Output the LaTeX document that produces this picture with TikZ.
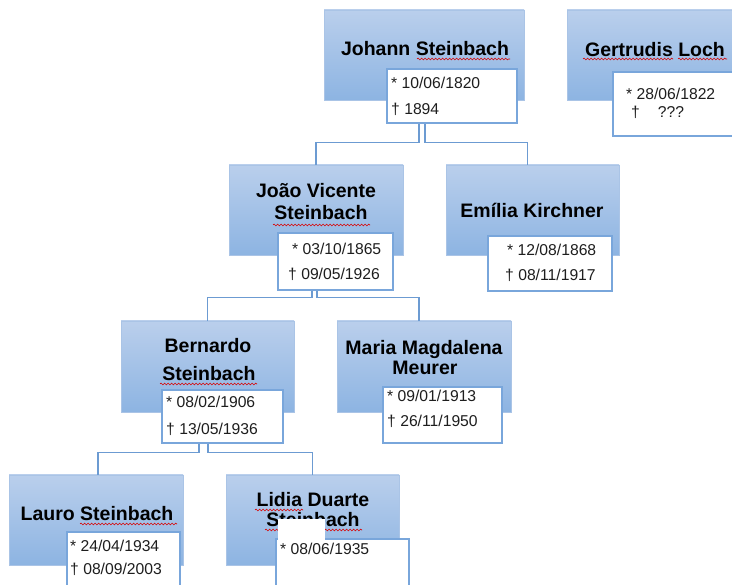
\documentclass[tikz,border=0pt]{standalone}
\usepackage{fontspec}
\setmainfont{Liberation Sans}
\usetikzlibrary{fit,decorations.pathmorphing}
\definecolor{blueTop}{RGB}{186,207,236}
\definecolor{blueBot}{RGB}{141,180,226}
\definecolor{boxEdge}{RGB}{170,196,230}
\definecolor{dateEdge}{RGB}{121,166,219}
\definecolor{connCol}{RGB}{108,155,210}
\definecolor{dateText}{RGB}{30,30,30}
\newcommand\nmfont{\fontsize{19.5}{22}\selectfont\bfseries}
\newcommand\dtfont{\fontsize{15.7}{18}\selectfont}
\tikzset{
  bluebox/.style={draw=boxEdge, line width=0.5pt, top color=blueTop, bottom color=blueBot, inner sep=0pt, rectangle},
  datebox/.style={draw=dateEdge, line width=1.1pt, fill=white, inner sep=0pt, rectangle},
  personname/.style={font=\nmfont, text=black, anchor=base, inner sep=0pt},
  dtxt/.style={font=\dtfont, text=dateText, anchor=base west, inner sep=0pt},
  conn/.style={draw=connCol, line width=1.1pt},
  squig/.style={draw=red!85!black, line width=0.6pt, decorate, decoration={snake, segment length=3.5pt, amplitude=0.9pt}}
}
\begin{document}
\begin{tikzpicture}[x=1pt,y=-1pt]
\fill[white] (0,0) rectangle (732,585);
\useasboundingbox (0,0) rectangle (732,585);

% ---------- generation 1 ----------
\node[bluebox, fit={(324,10) (524,100)}] (johann) {};
\node[personname] (johannN) at (425,56) {Johann Steinbach};
\draw[squig] (417,59) -- (510,59);
\node[datebox, fit={(387,69) (517,123)}] (jdate) {};
\node[dtxt] (jd1) at (391,89) {* 10/06/1820};
\node[dtxt] (jd2) at (391,115) {† 1894};

\node[bluebox, fit={(567,10) (745,100)}] (gertrudis) {};
\node[personname] (gertrudisN) at (655,57) {Gertrudis Loch};
\draw[squig] (583,59) -- (673,59);
\draw[squig] (678,59) -- (727,59);
\node[datebox, fit={(613,72) (745,136)}] (gdate) {};
\node[dtxt] (gd1) at (626,100) {* 28/06/1822};
\node[dtxt] (gd2) at (631,118) {†\hspace{18pt}???};

% ---------- generation 2 ----------
\node[bluebox, fit={(229,165) (403,255)}] (joao) {};
\node[personname] (joaoN1) at (316,198) {João Vicente};
\node[personname] (joaoN2) at (321,220) {Steinbach};
\draw[squig] (273,225) -- (370,225);
\node[datebox, fit={(278,233) (393,290)}] (jvdate) {};
\node[dtxt] (jvd1) at (292,255) {* 03/10/1865};
\node[dtxt] (jvd2) at (288,280) {† 09/05/1926};

\node[bluebox, fit={(446,165) (619,255)}] (emilia) {};
\node[personname] (emiliaN) at (532,218) {Emília Kirchner};
\node[datebox, fit={(488,236) (612,291)}] (edate) {};
\node[dtxt] (ed1) at (507,256) {* 12/08/1868};
\node[dtxt] (ed2) at (505,281) {† 08/11/1917};

% ---------- generation 3 ----------
\node[bluebox, fit={(121,321) (294,412)}] (bernardo) {};
\node[personname] (bernardoN1) at (208,353) {Bernardo};
\node[personname] (bernardoN2) at (209,381) {Steinbach};
\draw[squig] (160,384) -- (257,384);
\node[datebox, fit={(162,390) (283,443)}] (bdate) {};
\node[dtxt] (bd1) at (166,408) {* 08/02/1906};
\node[dtxt] (bd2) at (166,435) {† 13/05/1936};

\node[bluebox, fit={(337,321) (511,412)}] (maria) {};
\node[personname] (mariaN1) at (424,355) {Maria Magdalena};
\node[personname] (mariaN2) at (425,375) {Meurer};
\node[datebox, fit={(383,387) (502,443)}] (mdate) {};
\node[dtxt] (md1) at (387,402) {* 09/01/1913};
\node[dtxt] (md2) at (387,427) {† 26/11/1950};

% ---------- generation 4 ----------
\node[bluebox, fit={(9,475) (183,565)}] (lauro) {};
\node[personname] (lauroN) at (97,521) {Lauro Steinbach};
\draw[squig] (80,524) -- (177,524);
\node[datebox, fit={(67,532) (180,592)}] (ldate) {};
\node[dtxt] (ld1) at (70,552) {* 24/04/1934};
\node[dtxt] (ld2) at (70,575) {† 08/09/2003};

\node[bluebox, fit={(226,475) (399,565)}] (lidia) {};
\node[personname] (lidiaN1) at (313,507) {Lidia Duarte};
\node[personname] (lidiaN2) at (313,527) {Steinbach};
\draw[squig] (255,510) -- (303,510);
\draw[squig] (265,530) -- (362,530);
\node[datebox, fit={(276,539) (409,592)}] (lidate) {};
\fill[white] (277.5,519) rectangle (325,539.6);
\node[dtxt] (lid1) at (280,555) {* 08/06/1935};

% ---------- connectors ----------
\draw[conn] ([xshift=-5pt]johann.south |- jdate.south) -- ++(0,19) -| (joao.north);
\draw[conn] ([xshift=1pt]johann.south |- jdate.south) -- ++(0,19) -| ([xshift=-5pt]emilia.north);
\draw[conn] ([xshift=-4pt]joao.south |- jvdate.south) -- ++(0,7) -| (bernardo.north);
\draw[conn] ([xshift=1pt]joao.south |- jvdate.south) -- ++(0,7) -| ([xshift=-5pt]maria.north);
\draw[conn] ([xshift=-8.5pt]bernardo.south |- bdate.south) -- ++(0,9) -| ([xshift=2pt]lauro.north);
\draw[conn] ([xshift=0.5pt]bernardo.south |- bdate.south) -- ++(0,9) -| (lidia.north);
\end{tikzpicture}
\end{document}
